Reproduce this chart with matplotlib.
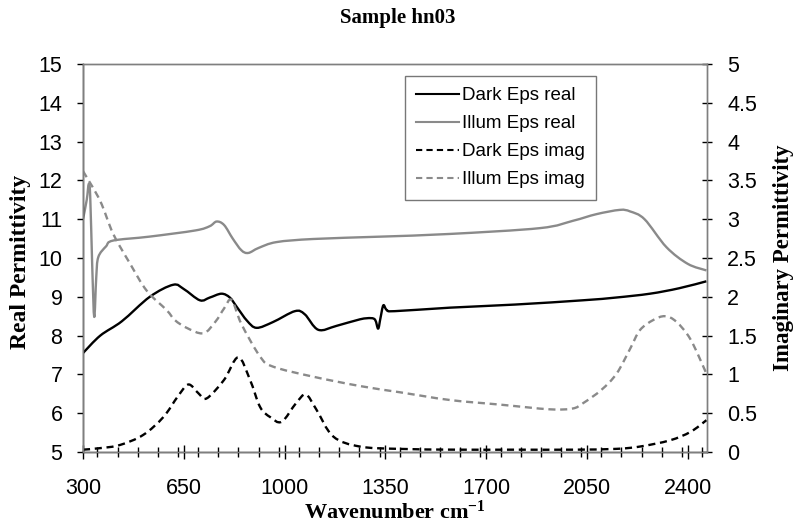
import matplotlib
matplotlib.use("Agg")
import matplotlib.pyplot as plt
from matplotlib.ticker import MultipleLocator, FixedLocator
from matplotlib.path import Path
from matplotlib.patches import PathPatch
from matplotlib.lines import Line2D

# ---- data ----
dark_real_x = [300, 360, 435, 532, 613, 650, 706, 740, 781, 810, 834, 870, 903, 960, 1036, 1070, 1117,
               1180, 1262, 1300, 1315, 1325, 1333, 1343, 1355, 1383, 1574, 1800, 2036, 2150, 2269, 2370, 2465]
dark_real_y = [7.55, 8.0, 8.37, 9.0, 9.31, 9.2, 8.91, 8.98, 9.08, 8.98, 8.74, 8.38, 8.2, 8.35, 8.63, 8.55, 8.15,
               8.25, 8.42, 8.45, 8.40, 8.18, 8.45, 8.78, 8.66, 8.63, 8.72, 8.8, 8.91, 8.98, 9.08, 9.22, 9.40]

illum_real_x = [300, 313, 320, 325, 332, 339, 346, 353, 380, 405, 530, 690, 740, 764, 790, 820, 850, 874,
                910, 972, 1100, 1331, 1574, 1887, 2002, 2083, 2164, 2200, 2250, 2326, 2400, 2465]
illum_real_y = [11.0, 11.5, 11.91, 11.6, 9.8, 8.48, 9.5, 10.02, 10.3, 10.45, 10.55, 10.71, 10.82, 10.94, 10.85, 10.5, 10.2, 10.13,
                10.26, 10.41, 10.49, 10.55, 10.62, 10.77, 10.96, 11.13, 11.24, 11.2, 11.0, 10.28, 9.85, 9.68]

dark_imag_x = [300, 360, 428, 509, 579, 630, 666, 700, 729, 790, 839, 880, 915, 950, 990, 1040, 1074, 1110,
               1169, 1262, 1400, 1600, 1800, 2000, 2150, 2234, 2338, 2410, 2465]
dark_imag_y = [0.03, 0.05, 0.09, 0.22, 0.45, 0.72, 0.87, 0.76, 0.69, 0.93, 1.22, 0.93, 0.58, 0.45, 0.39, 0.63, 0.74, 0.55,
               0.2, 0.07, 0.04, 0.03, 0.03, 0.03, 0.04, 0.07, 0.15, 0.26, 0.41]

illum_imag_x = [300, 359, 405, 463, 521, 590, 619, 660, 718, 760, 790, 816, 850, 915, 960, 1100, 1262, 1400,
                1574, 1750, 1921, 2000, 2037, 2100, 2153, 2200, 2234, 2280, 2321, 2360, 2410, 2465]
illum_imag_y = [3.62, 3.24, 2.81, 2.43, 2.08, 1.83, 1.70, 1.60, 1.53, 1.68, 1.85, 1.96, 1.65, 1.23, 1.10, 0.97, 0.85, 0.77,
                0.67, 0.61, 0.55, 0.56, 0.63, 0.80, 1.01, 1.33, 1.57, 1.70, 1.75, 1.68, 1.45, 1.01]

series_names = ["Dark Eps real", "Illum Eps real", "Dark Eps imag", "Illum Eps imag"]
x_ticks = [300, 650, 1000, 1350, 1700, 2050, 2400]
left_ticks = list(range(5, 16))
right_ticks = [0, 0.5, 1, 1.5, 2, 2.5, 3, 3.5, 4, 4.5, 5]

GRAY = "#8a8a8a"
DASH = (0, (3, 2))
plt.rcParams["font.family"] = ["Liberation Sans", "DejaVu Sans"]
plt.rcParams["mathtext.fontset"] = "custom"
plt.rcParams["mathtext.rm"] = "Liberation Serif:bold"
plt.rcParams["mathtext.default"] = "regular"


def smooth_path(xs, ys):
    """Excel-like smoothed line: cubic Bezier segments through the data points."""
    pts = list(zip(xs, ys))
    verts = [pts[0]]
    codes = [Path.MOVETO]
    n = len(pts)
    for i in range(n - 1):
        p0 = pts[i - 1] if i > 0 else pts[i]
        p1 = pts[i]
        p2 = pts[i + 1]
        p3 = pts[i + 2] if i + 2 < n else pts[i + 1]
        c1 = (p1[0] + (p2[0] - p0[0]) / 6.0, p1[1] + (p2[1] - p0[1]) / 6.0)
        c2 = (p2[0] - (p3[0] - p1[0]) / 6.0, p2[1] - (p3[1] - p1[1]) / 6.0)
        verts += [c1, c2, p2]
        codes += [Path.CURVE4] * 3
    return Path(verts, codes)


fig = plt.figure(figsize=(7.96, 5.27), dpi=100)
ax = fig.add_axes([83/796, 1-452/527, (707-83)/796, (452-64)/527])
ax2 = ax.twinx()

styles = [("black", "-"), (GRAY, "-"), ("black", DASH), (GRAY, DASH)]
datasets = [(ax, dark_real_x, dark_real_y), (ax, illum_real_x, illum_real_y),
            (ax2, dark_imag_x, dark_imag_y), (ax2, illum_imag_x, illum_imag_y)]
handles = []
for (a, xs, ys), (c, ls), name in zip(datasets, styles, series_names):
    a.add_patch(PathPatch(smooth_path(xs, ys), fill=False, edgecolor=c, lw=1.7, linestyle=ls,
                          capstyle="butt", joinstyle="round"))
    handles.append(Line2D([], [], color=c, lw=1.5, linestyle=ls, label=name))

ax.set_xlim(300, 2467)
ax.set_ylim(5, 15)
ax2.set_ylim(0, 5)
ax.xaxis.set_major_locator(FixedLocator(x_ticks))
ax.xaxis.set_minor_locator(MultipleLocator(70))
ax.set_yticks(left_ticks)
ax2.set_yticks(right_ticks)
ax2.set_yticklabels(["%g" % v for v in right_ticks])

ax.tick_params(axis="x", which="major", direction="inout", length=10, width=1, labelsize=15.5, pad=14)
ax.tick_params(axis="x", which="minor", direction="inout", length=7, width=1)
ax.tick_params(axis="y", direction="out", length=4.3, width=1, labelsize=15.5, pad=10.5)
ax2.tick_params(axis="y", direction="inout", length=7, width=1, labelsize=15.5, pad=11)

for a in (ax, ax2):
    for s in a.spines.values():
        s.set_color("#7f7f7f")
        s.set_linewidth(1)
ax.spines["bottom"].set_color("black")
ax.spines["left"].set_color("black")

ax.set_xlabel("Wavenumber cm$^{-1}$", fontsize=16, fontweight="bold", family="Liberation Serif")
ax.xaxis.set_label_coords(0.5, -0.125)
ax.set_ylabel("Real Permittivity", fontsize=17, fontweight="bold", family="Liberation Serif")
ax.yaxis.set_label_coords(-0.083, 0.49)
ax2.set_ylabel("Imaginary Permittivity", fontsize=16.5, fontweight="bold", family="Liberation Serif")
ax2.yaxis.set_label_coords(1.106, 0.5)
fig.text(0.5, 1-18/527, "Sample hn03", ha="center", va="center", fontsize=15, fontweight="bold",
         family="Liberation Serif")

leg = ax.legend(handles=handles, loc="upper left", bbox_to_anchor=(405/796, 1-76/527),
                bbox_transform=fig.transFigure, fontsize=13.5, frameon=True, fancybox=False,
                edgecolor="#555555", handlelength=2.3, handletextpad=0.15, labelspacing=0.58,
                borderpad=0.6, borderaxespad=0)
leg.get_frame().set_linewidth(1)

fig.savefig("out.png", dpi=100)
